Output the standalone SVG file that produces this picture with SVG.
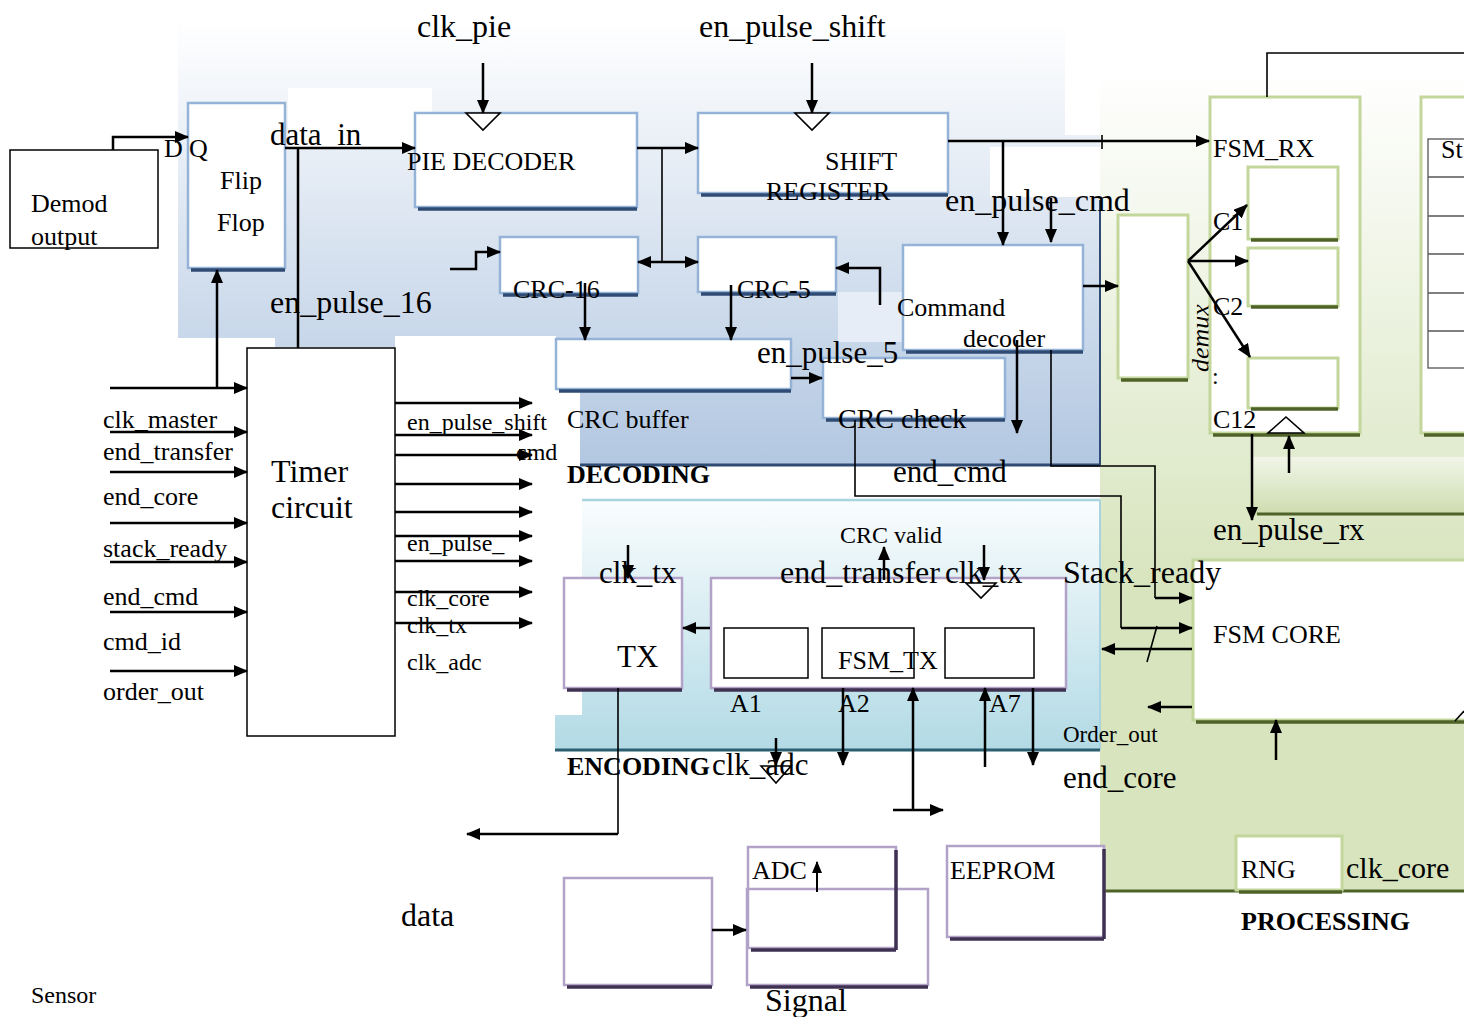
<svg xmlns="http://www.w3.org/2000/svg" width="1464" height="1017" viewBox="0 0 1464 1017">
<defs>
<linearGradient id="gDec" gradientUnits="userSpaceOnUse" x1="0" y1="20" x2="0" y2="465"><stop offset="0" stop-color="#ffffff"/><stop offset="1" stop-color="#b2c7e1"/></linearGradient>
<linearGradient id="gEnc" gradientUnits="userSpaceOnUse" x1="0" y1="500" x2="0" y2="750"><stop offset="0" stop-color="#fafdfe"/><stop offset="1" stop-color="#b2dae5"/></linearGradient>
<linearGradient id="gPro" gradientUnits="userSpaceOnUse" x1="0" y1="70" x2="0" y2="590"><stop offset="0" stop-color="#ffffff"/><stop offset="1" stop-color="#d7e4bd"/></linearGradient>
<linearGradient id="gBar" gradientUnits="userSpaceOnUse" x1="0" y1="455" x2="0" y2="515"><stop offset="0" stop-color="#f2f6ea"/><stop offset="1" stop-color="#cddcae"/></linearGradient>
<marker id="ah" viewBox="0 0 14 12" refX="13" refY="6" markerWidth="14" markerHeight="12" orient="auto" markerUnits="userSpaceOnUse"><path d="M0,0 L14,6 L0,12 z" fill="#000"/></marker>
<marker id="as" viewBox="0 0 12 10" refX="11" refY="5" markerWidth="12" markerHeight="10" orient="auto" markerUnits="userSpaceOnUse"><path d="M0,0 L12,5 L0,10 z" fill="#000"/></marker>
<style>
text{font-family:"Liberation Serif","Times New Roman",serif;fill:#000}
.f20{font-size:20px}.f22{font-size:22px}.f23{font-size:23px}.f24{font-size:24px}.f26{font-size:26px}.f28{font-size:28px}.f30{font-size:30px}.f31{font-size:31px}.f32{font-size:32px}
.b{font-weight:bold}
.bd{fill:#fff;stroke:#95b3d7;stroke-width:2.5}
.sd{stroke:#2f4b74;stroke-width:3.5;fill:none}
.bg{fill:#fff;stroke:#c3d69b;stroke-width:3}
.sg{stroke:#4f6228;stroke-width:3.5;fill:none}
.bp{fill:#fff;stroke:#b3a2c7;stroke-width:2.5}
.sp{stroke:#3f3151;stroke-width:3.5;fill:none}
.bk{fill:#fff;stroke:#000;stroke-width:1.5}
.tbl{fill:none;stroke:#555;stroke-width:1.3}
.w{stroke:#000;stroke-width:2.5;fill:none;marker-end:url(#ah)}
.ws{stroke:#000;stroke-width:2;fill:none;marker-end:url(#as)}
.t{stroke:#000;stroke-width:1.6;fill:none}
.tk{stroke:#000;stroke-width:2.5;fill:none}
.clk{fill:#fff;stroke:#000;stroke-width:1.6}
</style>
</defs>
<rect width="1464" height="1017" fill="#fff"/>
<g id="backgrounds">
<path d="M1100,40 H1464 V890 H1100 Z" fill="url(#gPro)"/>
<line x1="1102" y1="891" x2="1464" y2="891" stroke="#4f6228" stroke-width="3"/>
<rect x="1252" y="455" width="212" height="60" fill="url(#gBar)"/>
<line x1="1252" y1="456" x2="1464" y2="456" stroke="#e4ecd3" stroke-width="2"/>
<line x1="1257" y1="514" x2="1464" y2="514" stroke="#4f6228" stroke-width="3"/>
<path d="M178,22 H1065 V135 H1100 V465 H580 V390 H556 V336 H395 V347 H275 V338 H178 Z" fill="url(#gDec)"/>
<rect x="288" y="88" width="144" height="60" fill="#fff"/>
<rect x="990" y="147" width="110" height="50" fill="#fff"/>
<rect x="838" y="292" width="65" height="50" fill="#e6edf6"/>
<line x1="580" y1="465" x2="1100" y2="465" stroke="#2f4b74" stroke-width="3"/>
<line x1="1100" y1="200" x2="1100" y2="465" stroke="#2f4b74" stroke-width="2"/>
<path d="M582,500 H1100 V750 H555 V715 H582 Z" fill="url(#gEnc)"/>
<line x1="582" y1="500" x2="1100" y2="500" stroke="#a9d3de" stroke-width="2.5"/>
<line x1="1100" y1="500" x2="1100" y2="750" stroke="#a9d3de" stroke-width="2"/>
<line x1="555" y1="750" x2="1100" y2="750" stroke="#2b5f70" stroke-width="3"/>
</g>
<g id="demod">
<rect class="bk" x="10" y="150" width="148" height="98"/>
<text class="f26" x="31" y="212">Demod</text>
<text class="f26" x="31" y="245">output</text>
</g>
<g id="flipflop">
<rect class="bd" x="188" y="103" width="97" height="165"/>
<path class="sd" d="M191,270 H285"/>
<text class="f26" x="220" y="189">Flip</text>
<text class="f26" x="217" y="231">Flop</text>
<text class="f26" x="164" y="157">D</text>
<text class="f26" x="189" y="157">Q</text>
</g>
<g id="pie-decoder">
<rect class="bd" x="415" y="113" width="222" height="94"/>
<path class="sd" d="M418,209 H637"/>
<text class="f26" x="407" y="170">PIE DECODER</text>
</g>
<g id="shift-register">
<rect class="bd" x="698" y="113" width="250" height="80"/>
<path class="sd" d="M701,195 H948"/>
<text class="f26" x="825" y="170">SHIFT</text>
<text class="f26" x="766" y="200">REGISTER</text>
</g>
<g id="crc16">
<rect class="bd" x="500" y="237" width="138" height="56"/>
<path class="sd" d="M503,295 H638"/>
<text class="f26" x="513" y="298">CRC-16</text>
</g>
<g id="crc5">
<rect class="bd" x="698" y="237" width="138" height="55"/>
<path class="sd" d="M701,294 H836"/>
<text class="f26" x="737" y="298">CRC-5</text>
</g>
<g id="command-decoder">
<rect class="bd" x="903" y="245" width="180" height="105"/>
<path class="sd" d="M906,352 H1083"/>
<text class="f26" x="897" y="316">Command</text>
<text class="f26" x="963" y="347">decoder</text>
</g>
<g id="crc-buffer">
<rect class="bd" x="556" y="339" width="235" height="50"/>
<path class="sd" d="M559,391 H791"/>
<text class="f26" x="567" y="428">CRC buffer</text>
</g>
<g id="crc-check">
<rect class="bd" x="823" y="358" width="182" height="60"/>
<path class="sd" d="M826,420 H1005"/>
<text class="f28" x="838" y="428">CRC check</text>
</g>
<g id="demux">
<rect class="bg" x="1118" y="215" width="70" height="163"/>
<path class="sg" d="M1121,380 H1188"/>
<text class="f26" font-style="italic" transform="translate(1209,372) rotate(-90)">demux</text>
</g>
<g id="fsm-rx">
<rect class="bg" x="1210" y="97" width="150" height="336"/>
<path class="sg" d="M1213,435 H1360"/>
<text class="f26" x="1213" y="157">FSM_RX</text>
<rect class="bg" x="1248" y="167" width="90" height="72"/>
<path class="sg" d="M1251,240 H1338"/>
<rect class="bg" x="1248" y="248" width="90" height="58"/>
<path class="sg" d="M1251,307 H1338"/>
<rect class="bg" x="1248" y="358" width="90" height="50"/>
<path class="sg" d="M1251,409 H1338"/>
<polygon class="clk" points="1268,433 1304,433 1286,417"/>
<text class="f26" x="1213" y="230">C1</text>
<text class="f26" x="1213" y="315">C2</text>
<text class="f24" x="1212" y="384">:</text>
<text class="f26" x="1213" y="428">C12</text>
</g>
<g id="state-table">
<rect class="bg" x="1421" y="97" width="60" height="336"/>
<path class="sg" d="M1424,435 H1464"/>
<rect class="tbl" x="1428" y="139" width="60" height="229"/>
<path class="tbl" d="M1428,177 H1464 M1428,216 H1464 M1428,254 H1464 M1428,293 H1464 M1428,331 H1464"/>
<text class="f26" x="1441" y="158">St</text>
</g>
<g id="fsm-core">
<rect class="bg" x="1193" y="560" width="290" height="160"/>
<path class="sg" d="M1196,722 H1464"/>
<path class="t" d="M1455,721 L1464,711"/>
<text class="f26" x="1213" y="643">FSM CORE</text>
</g>
<g id="rng">
<rect class="bg" x="1236" y="836" width="106" height="54"/>
<path class="sg" d="M1239,892 H1342"/>
<text class="f26" x="1241" y="878">RNG</text>
</g>
<g id="timer">
<rect class="bk" x="247" y="348" width="148" height="388"/>
<text class="f32" x="271" y="482">Timer</text>
<text class="f32" x="271" y="518">circuit</text>
</g>
<g id="tx">
<rect class="bp" x="564" y="578" width="118" height="110"/>
<path class="sp" d="M567,690 H682"/>
<text class="f31" x="617" y="667">TX</text>
</g>
<g id="fsm-tx">
<rect class="bp" x="711" y="578" width="355" height="110"/>
<path class="sp" d="M714,690 H1066"/>
<rect class="bk" x="724" y="628" width="84" height="50"/>
<rect class="bk" x="822" y="628" width="92" height="50"/>
<rect class="bk" x="945" y="628" width="89" height="50"/>
<text class="f26" x="838" y="669">FSM_TX</text>
<polygon class="clk" points="966,583 996,583 981,598"/>
</g>
<g id="sensor">
<rect class="bp" x="564" y="878" width="148" height="107"/>
<path class="sp" d="M567,987 H712"/>
</g>
<g id="signal">
<rect class="bp" x="747" y="889" width="181" height="96"/>
<path class="sp" d="M750,987 H928"/>
</g>
<g id="adc">
<rect class="bp" x="748" y="847" width="148" height="101" fill="none" style="fill:none"/>
<path class="sp" d="M751,950 H896 M896,850 V950"/>
<text class="f26" x="752" y="879">ADC</text>
</g>
<g id="eeprom">
<rect class="bp" x="947" y="846" width="157" height="91"/>
<path class="sp" d="M950,939 H1104 M1104,849 V939"/>
<text class="f26" x="950" y="879">EEPROM</text>
</g>
<g id="connectors">
<path class="w" d="M113,150 V137 H188"/>
<path class="w" d="M285,148 H415"/>
<path class="tk" d="M298,148 V348"/>
<path class="w" d="M483,63 V113"/>
<path class="w" d="M812,63 V113"/>
<polygon class="clk" points="466,113 500,113 483,130"/>
<polygon class="clk" points="795,113 829,113 812,130"/>
<path class="w" d="M637,148 H698"/>
<path class="t" d="M662,148 V262"/>
<path class="w" d="M662,262 H638"/>
<path class="w" d="M662,262 H698"/>
<path class="w" d="M450,269 H476 V252 H500"/>
<path class="w" d="M585,283 V340"/>
<path class="w" d="M731,285 V340"/>
<path class="w" d="M880,305 V268 H836"/>
<path class="w" d="M948,141 H1209"/>
<path class="t" d="M1102,135 V149"/>
<path class="w" d="M1003,141 V245"/>
<path class="w" d="M1051,198 V242"/>
<path class="w" d="M1083,286 H1118"/>
<path class="w" d="M1017,340 V433"/>
<path class="t" d="M1051,350 V466 H1155 V598"/>
<path class="w" d="M1155,598 H1192"/>
<path class="t" d="M855,420 V496 H1121 V628"/>
<path class="w" d="M1121,628 H1192"/>
<path class="t" d="M1157,626 L1147,662"/>
<path class="w" d="M1192,649 H1102"/>
<path class="w" d="M1192,707 H1148"/>
<path class="w" d="M1276,760 V720"/>
<path class="w" d="M1188,261 L1247,205"/>
<path class="w" d="M1188,261 H1248"/>
<path class="w" d="M1188,261 L1250,357"/>
<path class="t" d="M1267,97 V53 H1464"/>
<path class="w" d="M1289,473 V436"/>
<path class="w" d="M1252,434 V520"/>
<path class="w" d="M791,378 H822"/>
<path class="w" d="M217,388 V270"/>
<path class="w" d="M110,388 H247"/>
<path class="w" d="M110,432 H247"/>
<path class="w" d="M110,472 H247"/>
<path class="w" d="M110,523 H247"/>
<path class="w" d="M110,562 H247"/>
<path class="w" d="M110,612 H247"/>
<path class="w" d="M110,671 H247"/>
<path class="w" d="M395,403 H532"/>
<path class="w" d="M395,435 H532"/>
<path class="w" d="M395,455 H532"/>
<path class="w" d="M395,484 H532"/>
<path class="w" d="M395,512 H532"/>
<path class="w" d="M395,536 H532"/>
<path class="w" d="M395,561 H532"/>
<path class="w" d="M395,592 H532"/>
<path class="w" d="M395,623 H532"/>
<path class="w" d="M628,545 V578"/>
<path class="w" d="M984,545 V580"/>
<path class="w" d="M884,580 V547"/>
<path class="w" d="M710,628 H683"/>
<path class="w" d="M843,688 V765"/>
<path class="w" d="M913,810 V688"/>
<path class="w" d="M893,810 H943"/>
<path class="w" d="M985,767 V688"/>
<path class="w" d="M1033,688 V765"/>
<path class="w" d="M776,738 V765"/>
<polygon class="clk" points="761,766 791,766 776,783"/>
<path class="t" d="M618,688 V834"/>
<path class="w" d="M618,834 H467"/>
<path class="w" d="M712,930 H746"/>
<path class="ws" d="M817,892 V862"/>
</g>
<g id="labels">
<text class="f32" x="417" y="37">clk_pie</text>
<text class="f32" x="699" y="37">en_pulse_shift</text>
<text class="f31" x="270" y="145">data_in</text>
<text class="f32" x="270" y="313">en_pulse_16</text>
<text class="f32" x="945" y="211">en_pulse_cmd</text>
<text class="f31" x="757" y="363">en_pulse_5</text>
<text class="f26 b" x="567" y="483">DECODING</text>
<text class="f31" x="893" y="482">end_cmd</text>
<text class="f31" x="1213" y="540">en_pulse_rx</text>
<text class="f32" x="1063" y="583">Stack_ready</text>
<text class="f23" x="1063" y="742">Order_out</text>
<text class="f31" x="1063" y="788">end_core</text>
<text class="f30" x="1346" y="878">clk_core</text>
<text class="f26 b" x="1241" y="930">PROCESSING</text>
<text class="f24" x="840" y="543">CRC valid</text>
<text class="f31" x="599" y="583">clk_tx</text>
<text class="f32" x="780" y="583">end_transfer</text>
<text class="f31" x="945" y="583">clk_tx</text>
<text class="f26" x="730" y="712">A1</text>
<text class="f26" x="838" y="712">A2</text>
<text class="f26" x="989" y="712">A7</text>
<text class="f26 b" x="567" y="775">ENCODING</text>
<text class="f31" x="712" y="775">clk_adc</text>
<text class="f32" x="401" y="926">data</text>
<text class="f32" x="765" y="1011">Signal</text>
<text class="f24" x="31" y="1003">Sensor</text>
<text class="f26" x="103" y="428">clk_master</text>
<text class="f26" x="103" y="460">end_transfer</text>
<text class="f26" x="103" y="505">end_core</text>
<text class="f26" x="103" y="557">stack_ready</text>
<text class="f26" x="103" y="605">end_cmd</text>
<text class="f26" x="103" y="650">cmd_id</text>
<text class="f26" x="103" y="700">order_out</text>
<text class="f24" x="407" y="430">en_pulse_shift</text>
<text class="f24" x="516" y="460">cmd</text>
<text class="f24" x="407" y="551">en_pulse_</text>
<text class="f24" x="407" y="606">clk_core</text>
<text class="f24" x="407" y="633">clk_tx</text>
<text class="f24" x="407" y="670">clk_adc</text>
</g>
</svg>
